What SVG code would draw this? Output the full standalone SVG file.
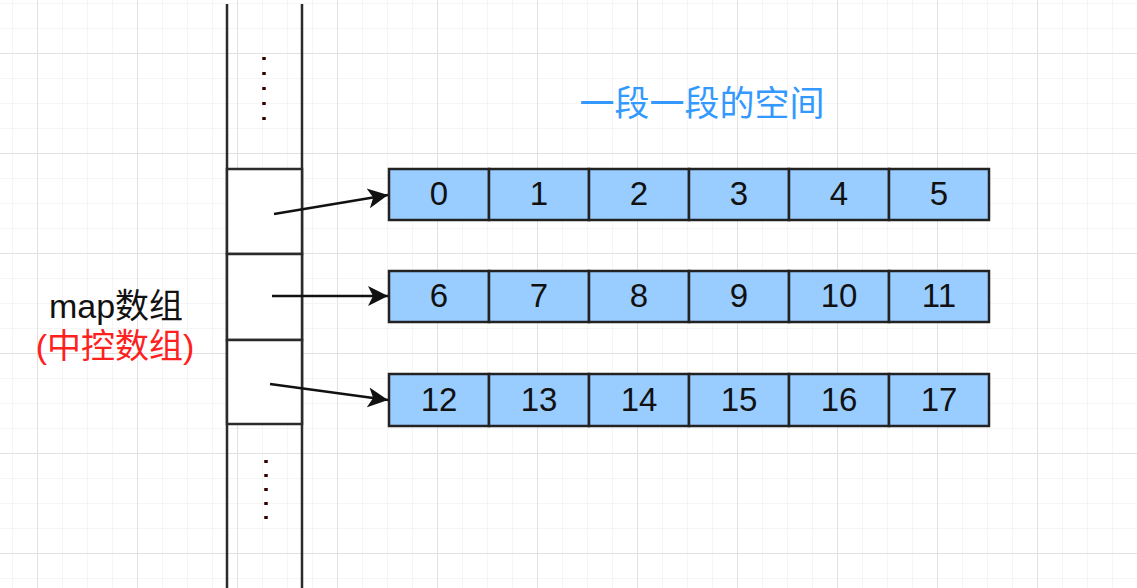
<svg xmlns="http://www.w3.org/2000/svg" width="1137" height="588" viewBox="0 0 1137 588">
<style>
.wall{stroke:#2b2b2b;stroke-width:2.5;fill:none}
.slot{fill:#ffffff;stroke:#2b2b2b;stroke-width:2.5}
.cell{fill:#99CCFF;stroke:#222222;stroke-width:2.5}
.num{font-family:"Liberation Sans",Arial,sans-serif;font-size:33px;fill:#111111;text-anchor:middle}
.cjk{font-family:"Liberation Sans","Noto Sans CJK SC",sans-serif;font-size:34px;text-anchor:middle}
.dots{stroke:#330000;stroke-width:3.5;fill:none}
.arrow{stroke:#111111;stroke-width:2.5;fill:none}
</style>
<defs>
<pattern id="minor" x="12" y="3" width="25" height="25" patternUnits="userSpaceOnUse">
<path d="M0,0 H25 M0,0 V25" stroke="#f2f2f2" stroke-width="1.5" fill="none"/>
</pattern>
<pattern id="major" x="37" y="53" width="100" height="100" patternUnits="userSpaceOnUse">
<path d="M0,0 H100 M0,0 V100" stroke="#e2e2e2" stroke-width="2" fill="none"/>
</pattern>
<marker id="head" markerUnits="userSpaceOnUse" markerWidth="22" markerHeight="22" refX="20" refY="10" orient="auto" viewBox="0 0 22 20">
<path d="M0,0 L20,10 L0,20 L5,10 Z" fill="#111111"/>
</marker>
</defs>
<rect width="1137" height="588" fill="#ffffff"/>
<rect width="1137" height="588" fill="url(#minor)"/>
<rect width="1137" height="588" fill="url(#major)"/>

<g id="map-column">
<line class="wall" x1="227" y1="4" x2="227" y2="588"/>
<line class="wall" x1="302" y1="4" x2="302" y2="588"/>
<line class="dots" x1="264" y1="57" x2="264" y2="125" stroke-dasharray="3 12"/>
<line class="dots" x1="266" y1="460" x2="266" y2="528" stroke-dasharray="3 11"/>
</g>
<g id="slot1"><rect class="slot" x="227" y="169" width="75" height="85"/></g>
<g id="slot2"><rect class="slot" x="227" y="254" width="75" height="86"/></g>
<g id="slot3"><rect class="slot" x="227" y="340" width="75" height="84"/></g>

<g id="map-label">
<text class="cjk" x="116" y="318" fill="#111111">map数组</text>
<text class="cjk" x="115" y="358" fill="#FF2020">(中控数组)</text>
</g>

<g id="title">
<text class="cjk" x="702" y="116" fill="#3399FF" style="font-size:35px">一段一段的空间</text>
</g>

<g id="row1">
<rect class="cell" x="389" y="169" width="100" height="51"/>
<rect class="cell" x="489" y="169" width="100" height="51"/>
<rect class="cell" x="589" y="169" width="100" height="51"/>
<rect class="cell" x="689" y="169" width="100" height="51"/>
<rect class="cell" x="789" y="169" width="100" height="51"/>
<rect class="cell" x="889" y="169" width="100" height="51"/>
<text class="num" x="439" y="205">0</text>
<text class="num" x="539" y="205">1</text>
<text class="num" x="639" y="205">2</text>
<text class="num" x="739" y="205">3</text>
<text class="num" x="839" y="205">4</text>
<text class="num" x="939" y="205">5</text>
</g>
<g id="row2">
<rect class="cell" x="389" y="271" width="100" height="51"/>
<rect class="cell" x="489" y="271" width="100" height="51"/>
<rect class="cell" x="589" y="271" width="100" height="51"/>
<rect class="cell" x="689" y="271" width="100" height="51"/>
<rect class="cell" x="789" y="271" width="100" height="51"/>
<rect class="cell" x="889" y="271" width="100" height="51"/>
<text class="num" x="439" y="307">6</text>
<text class="num" x="539" y="307">7</text>
<text class="num" x="639" y="307">8</text>
<text class="num" x="739" y="307">9</text>
<text class="num" x="839" y="307">10</text>
<text class="num" x="939" y="307">11</text>
</g>
<g id="row3">
<rect class="cell" x="389" y="374" width="100" height="52"/>
<rect class="cell" x="489" y="374" width="100" height="52"/>
<rect class="cell" x="589" y="374" width="100" height="52"/>
<rect class="cell" x="689" y="374" width="100" height="52"/>
<rect class="cell" x="789" y="374" width="100" height="52"/>
<rect class="cell" x="889" y="374" width="100" height="52"/>
<text class="num" x="439" y="411">12</text>
<text class="num" x="539" y="411">13</text>
<text class="num" x="639" y="411">14</text>
<text class="num" x="739" y="411">15</text>
<text class="num" x="839" y="411">16</text>
<text class="num" x="939" y="411">17</text>
</g>

<g id="connectors">
<line class="arrow" x1="274" y1="214" x2="388" y2="195" marker-end="url(#head)"/>
<line class="arrow" x1="272" y1="296" x2="388" y2="296" marker-end="url(#head)"/>
<line class="arrow" x1="270" y1="384" x2="388" y2="400" marker-end="url(#head)"/>
</g>
</svg>
